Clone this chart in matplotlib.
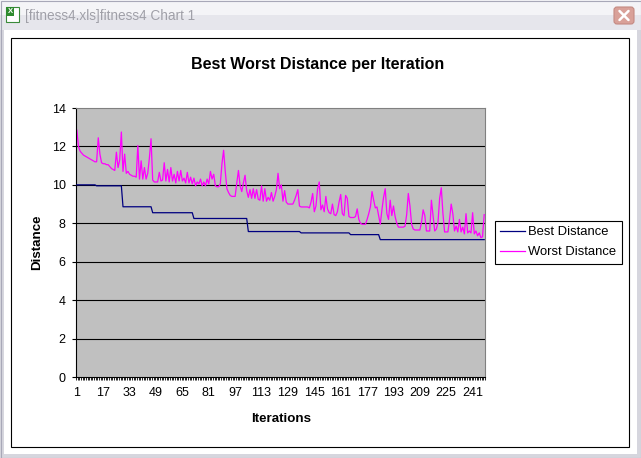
import numpy as np
import matplotlib
matplotlib.use("Agg")
import matplotlib.pyplot as plt
from matplotlib.patches import Rectangle, FancyBboxPatch

plt.rcParams['font.family'] = ['Liberation Sans', 'DejaVu Sans']

# data
iterations = np.arange(1, 249)

best_levels = [10.0, 9.95, 8.86, 8.55, 8.25, 7.57, 7.50, 7.41, 7.15]
best_runs = [12, 16, 18, 25, 33, 32, 30, 18, 64]
best = np.repeat(best_levels, best_runs)

worst = [
    12.85, 12.0, 11.75, 11.65, 11.55, 11.5, 11.45, 11.4, 11.35, 11.3,
    11.25, 11.2, 11.2, 12.45, 11.6, 11.15, 11.1, 11.1, 11.05, 11.05,
    10.95, 10.85, 10.8, 10.75, 11.7, 10.9, 11.3, 12.75, 10.7, 11.6,
    10.6, 10.7, 10.55, 10.5, 10.45, 10.45, 10.4, 12.05, 10.3, 11.25,
    10.3, 10.9, 10.3, 10.6, 11.4, 12.4, 10.25, 10.15, 10.15, 10.15,
    10.65, 10.2, 10.25, 11.15, 10.2, 10.8, 10.15, 10.9, 10.2, 10.55,
    10.1, 10.7, 10.2, 10.75, 10.2, 10.35, 10.1, 10.65, 10.1, 10.4,
    10.05, 10.35, 9.95, 10.15, 10.05, 10.3, 9.95, 10.15, 9.95, 10.3,
    10.05, 10.7, 10.3, 10.55, 9.95, 9.9, 9.9, 10.05, 11.1, 11.8,
    10.7, 9.8, 9.6, 9.45, 9.4, 9.4, 9.4, 10.1, 10.75, 9.95,
    9.65, 10.1, 10.5, 9.7, 9.35, 9.75, 9.3, 9.8, 9.3, 9.75,
    9.25, 9.2, 9.95, 9.15, 9.8, 9.15, 9.35, 9.2, 9.6, 9.15,
    9.4, 9.75, 10.6, 9.8, 10.0, 9.15, 9.7, 9.1, 9.0, 9.0,
    9.0, 9.0, 9.2, 9.45, 9.75, 8.9, 8.85, 8.85, 8.85, 8.85,
    8.85, 8.8, 9.1, 9.55, 8.6, 8.9, 9.8, 10.15, 8.7, 8.95,
    8.6, 9.4, 8.75, 8.55, 8.5, 9.0, 8.45, 8.4, 8.6, 9.1,
    9.5, 8.5, 8.4, 9.45, 9.3, 8.35, 8.3, 8.3, 8.3, 8.35,
    8.75, 8.2, 8.0, 7.95, 7.95, 7.95, 8.2, 8.5, 8.85, 9.65,
    9.2, 8.8, 8.85, 8.4, 7.95, 8.7, 9.35, 9.8, 8.5, 8.2,
    9.2, 8.4, 8.9, 8.35, 8.0, 7.8, 7.8, 7.8, 7.8, 7.85,
    8.45, 9.55, 8.9, 7.95, 7.7, 7.65, 7.65, 7.65, 7.65, 8.05,
    8.7, 8.4, 7.6, 7.6, 7.6, 9.2, 8.4, 7.6, 7.7, 8.05,
    9.3, 9.85, 8.5, 7.55, 7.55, 7.55, 8.2, 9.0, 8.5, 7.6,
    7.85, 7.55, 8.2, 7.55, 7.8, 7.45, 8.5, 7.5, 7.6, 7.5,
    8.55, 7.45, 7.6, 7.35, 7.5, 7.25, 7.3, 8.45,
]

xtick_labels = list(range(1, 249, 16))
yticks = [0, 2, 4, 6, 8, 10, 12, 14]

W, H = 641, 458
fig = plt.figure(figsize=(W / 100, H / 100), dpi=100)

# window frame drawn in pixel coords
bg = fig.add_axes([0, 0, 1, 1], zorder=-10)
bg.set_xlim(0, W)
bg.set_ylim(H, 0)
bg.axis('off')
bg.add_patch(Rectangle((0, 0), W, H, facecolor='#D6D6DE', edgecolor='none'))
bg.add_patch(Rectangle((0, 0), W, 15, facecolor='#F4F4F7', edgecolor='none'))
bg.add_patch(Rectangle((0, 15), W, 15, facecolor='#E6E6EC', edgecolor='none'))
bg.add_patch(Rectangle((4, 30), W - 8, H - 34, facecolor='white', edgecolor='none'))
bg.add_patch(Rectangle((0.5, 0.5), W - 1, H - 1, facecolor='none', edgecolor='#A8A8B8', lw=0.8))
bg.add_patch(Rectangle((11, 38), 618, 409, facecolor='white', edgecolor='black', lw=0.8))
# excel icon
bg.add_patch(Rectangle((6, 7), 13, 15, facecolor='white', edgecolor='#3A8A3A', lw=0.8))
bg.add_patch(Rectangle((6, 7), 8, 9, facecolor='#2E8B2E', edgecolor='none'))
bg.text(10, 11.5, 'X', color='white', fontsize=5.5, fontweight='bold', ha='center', va='center')
# close button
bg.add_patch(FancyBboxPatch((614, 7), 20, 17, boxstyle='round,pad=0,rounding_size=3',
                            facecolor='#D9A199', edgecolor='#C48A82', lw=0.8))
bg.plot([619.5, 628.5], [11, 20], color='white', lw=1.8, solid_capstyle='round')
bg.plot([619.5, 628.5], [20, 11], color='white', lw=1.8, solid_capstyle='round')
bg.text(25, 16, '[fitness4.xls]fitness4 Chart 1', color='#A0A0A8', fontsize=9.8,
        ha='left', va='center')

# chart
ax = fig.add_axes([76 / W, 1 - 377 / H, (485 - 76) / W, (377 - 108) / H])
ax.set_facecolor('#C0C0C0')
ax.set_xlim(0.5, len(iterations) + 0.5)
ax.set_ylim(0, 14)
ax.set_yticks(yticks)
for yv in yticks[1:-1]:
    ax.axhline(yv, color='black', lw=0.8, zorder=1)

ax.plot(iterations, best, color='#000080', lw=0.9, label='Best Distance', zorder=3)
ax.plot(iterations, worst, color='#FF00FF', lw=0.9, label='Worst Distance', zorder=2)

ax.set_xticks(xtick_labels)
ax.set_xticklabels([str(v) for v in xtick_labels])
ax.set_xticks(np.arange(0.5, len(iterations) + 1, 1), minor=True)
ax.tick_params(axis='x', which='major', length=0, pad=7, labelsize=9)
ax.tick_params(axis='x', which='minor', length=2.2, width=0.6, color='black')
ax.tick_params(axis='y', which='major', length=3, width=0.8, pad=4.5, labelsize=9)

for s in ['top', 'right']:
    ax.spines[s].set_color('#808080')
    ax.spines[s].set_linewidth(0.8)
for s in ['left', 'bottom']:
    ax.spines[s].set_color('black')
    ax.spines[s].set_linewidth(0.8)

fig.text(318 / W, 1 - 65 / H, 'Best Worst Distance per Iteration', fontsize=11.5,
         fontweight='bold', ha='center', va='center')
fig.text(281 / W, 1 - 419 / H, 'Iterations', fontsize=9.6, fontweight='bold',
         ha='center', va='center')
fig.text(37 / W, 1 - 242 / H, 'Distance', fontsize=9.6, fontweight='bold',
         ha='center', va='center', rotation=90)

leg = fig.legend(loc='upper left', bbox_to_anchor=(495 / W, 1 - 221 / H),
                 fontsize=9.4, frameon=True, fancybox=False, framealpha=1,
                 edgecolor='black', handlelength=1.9, handletextpad=0.25,
                 labelspacing=0.6, borderpad=0.4, borderaxespad=0)
leg.get_frame().set_linewidth(0.8)

fig.savefig('out.png', dpi=100)
